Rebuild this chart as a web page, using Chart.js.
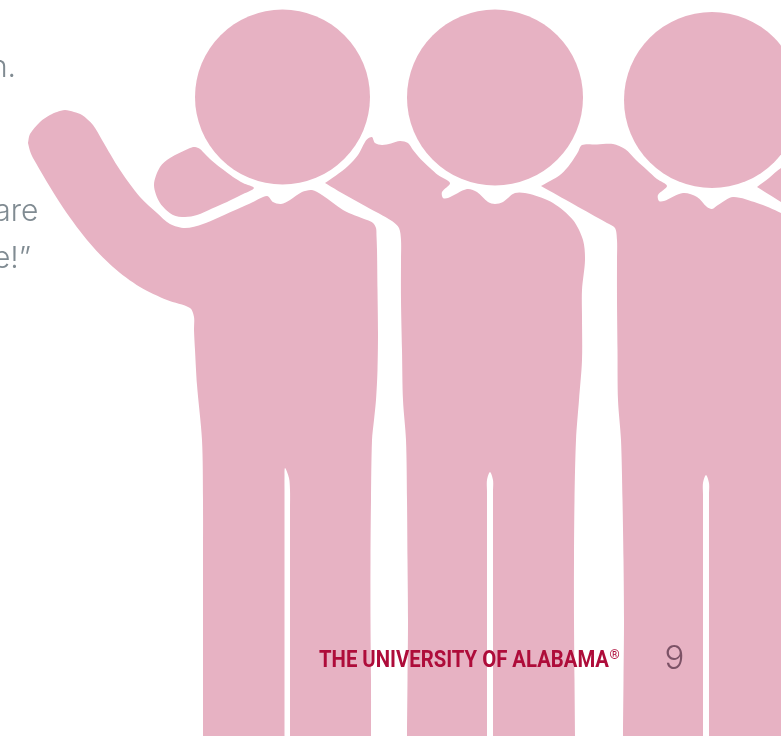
<!DOCTYPE html>
<html>
<head>
<meta charset="utf-8">
<script src="https://cdn.jsdelivr.net/npm/chart.js@4"></script>
<style>
  html, body { margin: 0; padding: 0; background: #fff; overflow: hidden; }
  canvas { display: block; }
</style>
</head>
<body>
<canvas id="chart" width="781" height="736"></canvas>
<script>
// outlines, in picture units
const person1 = [[28,143],[30,134],[40,122],[50,115],[57,112],[65,110],[74,112],[82,115],[93,125],[102,140],[120,170],[140,197],[157,213],[170,224],[185,228],[203,224],[233,211],[250,203.5],[267,196],[273,202],[281,204],[290,200],[302,192],[312,190],[322,195],[343,210],[355,215.5],[367,220],[373,223],[376,228],[376.5,236],[377,250],[377.5,290],[378,333],[377.5,370],[376,400],[374,420],[372,440],[371,500],[370.5,560],[370.5,620],[371,680],[371,736],[371,770],[371,790],[350,800],[310,800],[291,790],[290,770],[290,736],[290,680],[290,620],[290,560],[290,510],[290,490],[289,478],[285,468],[284.5,478],[284.5,490],[284.5,510],[284.5,560],[284.5,620],[284.5,680],[284.5,736],[284.5,770],[283,790],[265,800],[220,800],[204,790],[203,770],[203,736],[203,680],[203,620],[203,560],[203,500],[202,440],[197,385],[195,350],[194,330],[194,317],[190,308],[167,300],[140,287],[113,267],[87,240],[60,203],[33,158],[30,151],[28,143]];
const hand1 = [[205,154],[200,149],[195,147],[190,148],[170,158],[160,167],[154,185],[160,203],[173,215],[185,217],[197,215],[212,208.5],[227,202],[241,195],[254,188],[243,183],[233,177],[225,171],[217,165],[210,159],[205,154]];
const person2 = [[325,183],[336,175.5],[348,166],[358,155],[365,142],[368,138.5],[372,137],[375,143],[382,145],[391,143.5],[400,141],[408,143],[413,150],[421,159.5],[430,168],[438,175],[450,183],[442,192],[443,198],[448,198],[467,189],[477,192],[488,202],[495,204],[503,202],[515,193],[530,194],[553,203],[573,220],[583,240],[585,260],[582,290],[582,317],[582,360],[579,400],[576,440],[574.5,500],[574,560],[574,620],[574.5,680],[575,736],[575,770],[575,790],[555,800],[510,800],[494,790],[493,770],[493,736],[493,680],[493,620],[493,560],[493,510],[493,492],[493,480],[490,472],[487,480],[487,492],[487,510],[487,560],[487,620],[487,680],[487,736],[487,770],[486,790],[470,800],[425,800],[408,790],[407,770],[407,736],[407.5,680],[408,620],[407.5,560],[407,500],[406,440],[403,400],[402,350],[401,300],[401,260],[401,240],[399,228],[392,221],[366,206.5],[340,192],[332.5,187.5],[325,183]];
const person3 = [[541,186],[551,180.5],[560,175],[567,168],[573,160],[578,152],[582,145],[597,144.5],[613,144],[625,149],[636,160],[647,170],[657,179],[667,186],[658,195],[659,201],[664,201],[683,193],[697,197],[707,207],[712,209],[718,205],[733,197],[757,203],[781,213],[800,225],[815,260],[815,500],[815,700],[815,790],[790,800],[725,800],[710,790],[709,770],[709,736],[709,680],[709,620],[709,560],[709,510],[709,495],[709,483],[706,475],[703,483],[703,495],[703,510],[703,560],[703,620],[703,680],[703,736],[703,770],[702,790],[685,800],[640,800],[624,790],[623,770],[623,736],[623.5,680],[624,620],[623.5,560],[622.5,500],[621,440],[618,400],[617.5,350],[617,300],[617,260],[617,240],[615,228],[607,223],[574,204.5],[541,186]];
const person4 = [[757,187],[769,178],[781,168],[800,160],[800,215],[781,202],[769,194.5],[757,187]];
const headX = [282.5, 495, 712];
const headY = [97, 97.5, 100];
const headR = [87.5, 88, 88];

const pink = '#e7b2c3';

function outline(points) {
    return {
        type: 'scatter',
        showLine: true,
        data: points.map(p => ({x: p[0], y: p[1]})),
        borderWidth: 0,
        borderColor: pink,
        backgroundColor: pink,
        pointRadius: 0,
        tension: 0.3,
        fill: 'shape'
    };
}

const heads = {
    type: 'bubble',
    data: headX.map((x, i) => ({x: x, y: headY[i], r: headR[i]})),
    backgroundColor: pink,
    borderWidth: 0
};

// page text, placed through the same scales as the figures
const pageText = {
    id: 'pageText',
    afterDatasetsDraw(chart) {
        const {ctx, scales: {x, y}} = chart;
        const put = (text, px, py, font, color, align, maxWidth) => {
            ctx.font = font;
            ctx.fillStyle = color;
            ctx.textAlign = align;
            ctx.textBaseline = 'alphabetic';
            ctx.fillText(text, x.getPixelForValue(px), y.getPixelForValue(py), maxWidth);
        };
        ctx.save();
        put('n.', 16, 77, '300 30px Inter', '#808b92', 'right');
        put('are', 38.5, 221, '300 30px Inter', '#808b92', 'right');
        put('e!”', 31, 268, '300 30px Inter', '#808b92', 'right');
        put('THE UNIVERSITY OF ALABAMA', 319, 667, 'bold 23px Roboto', '#ae0c3a', 'left', 290);
        put('®', 609.5, 659, '13px Roboto', '#ae0c3a', 'left');
        put('9', 664.5, 669, '300 33px Inter', '#7c5266', 'left');
        ctx.restore();
    }
};

new Chart(document.getElementById('chart').getContext('2d'), {
    data: {
        datasets: [outline(person1), outline(hand1), outline(person2), outline(person3), outline(person4), heads]
    },
    options: {
        responsive: false,
        animation: false,
        layout: {padding: 0, autoPadding: false},
        plugins: {
            legend: {display: false},
            tooltip: {enabled: false}
        },
        scales: {
            x: {type: 'linear', min: 0, max: 781, display: false},
            y: {type: 'linear', min: 0, max: 736, reverse: true, display: false}
        }
    },
    plugins: [pageText]
});
</script>
</body>
</html>
